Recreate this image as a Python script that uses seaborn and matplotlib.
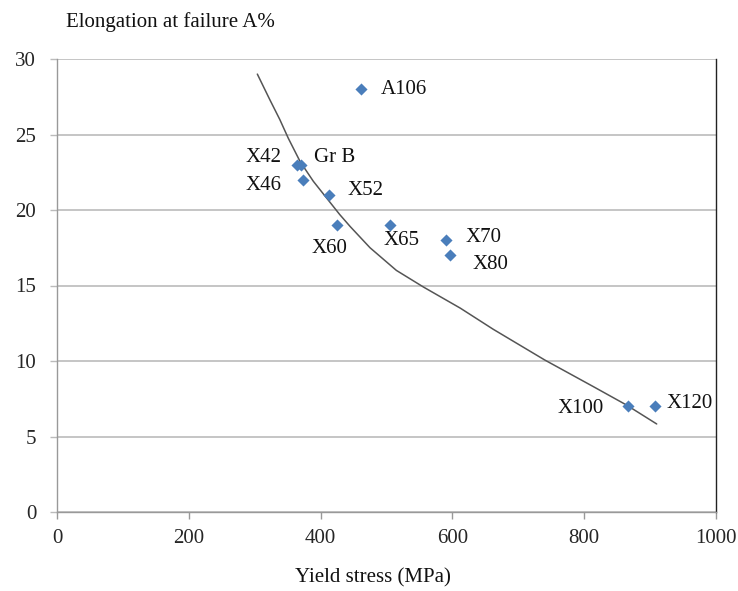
import matplotlib
matplotlib.use("Agg")
import matplotlib.pyplot as plt
import seaborn as sns
import pandas as pd

# Data
grades = ["A106", "X42", "Gr B", "X46", "X52", "X60", "X65", "X70", "X80", "X100", "X120"]
yield_stress = [461, 364, 370, 373, 413, 425, 505, 590, 597, 867, 907]
elongation = [28, 23, 23, 22, 21, 19, 19, 18, 17, 7, 7]

trend_x = [304, 323, 338, 351, 369, 389, 409, 429, 445, 475, 515, 556, 612, 662, 740, 814, 864, 910]
trend_y = [29.0, 27.3, 26.0, 24.75, 23.2, 21.9, 20.8, 19.7, 18.9, 17.5, 16.0, 14.9, 13.5, 12.1,
           10.07, 8.3, 7.09, 5.83]

x_ticks = [0, 200, 400, 600, 800, 1000]
y_ticks = [0, 5, 10, 15, 20, 25, 30]

# label offsets in pixels (dx, dy) and horizontal alignment
label_offsets = {
    "A106": (20, 0, "left"), "X42": (-15, 7, "right"), "Gr B": (13, 7, "left"),
    "X46": (-21, -6, "right"), "X52": (18, 4, "left"), "X60": (-8, -23, "center"),
    "X65": (12, -15, "center"), "X70": (20, 3, "left"), "X80": (22, -9, "left"),
    "X100": (-25, -2, "right"), "X120": (12, 3, "left"),
}

sns.set_theme(style="white")
plt.rcParams["font.family"] = ["Liberation Serif", "DejaVu Serif"]

df = pd.DataFrame({"grade": grades, "x": yield_stress, "y": elongation})
trend = pd.DataFrame({"x": trend_x, "y": trend_y})

fig = plt.figure(figsize=(7.38, 5.91), dpi=100)
ax = fig.add_axes([57 / 738, 79 / 591, (716 - 57) / 738, (512 - 59) / 591])

sns.lineplot(data=trend, x="x", y="y", ax=ax, color="#555555", linewidth=1.1, zorder=3)
sns.scatterplot(data=df, x="x", y="y", ax=ax, marker="D", s=38, color="#4A7EBB",
                edgecolor="#4A7EBB", linewidth=0, zorder=4)

fs = 15
for g, xv, yv in zip(grades, yield_stress, elongation):
    dx, dy, ha = label_offsets[g]
    ax.annotate(g, (xv, yv), xytext=(dx * 0.72, dy * 0.72), textcoords="offset points",
                ha=ha, va="center", fontsize=fs, color="#111111")

ax.set_xlim(0, 1000)
ax.set_ylim(0, 30)
ax.set_xticks(x_ticks)
ax.set_yticks(y_ticks)
ax.set_xticklabels([str(t) for t in x_ticks], fontsize=fs)
ax.set_yticklabels([str(t) for t in y_ticks], fontsize=fs)
ax.yaxis.grid(True, color="#BBBBBB", linewidth=1.2)
ax.xaxis.grid(False)
ax.tick_params(axis="x", direction="out", length=5, width=1, color="#999999", pad=7)
ax.tick_params(axis="y", direction="out", length=5, width=1, color="#BBBBBB", pad=10)
ax.tick_params(left=True, bottom=True)
for s in ["left", "bottom"]:
    ax.spines[s].set_color("#999999")
    ax.spines[s].set_linewidth(1)
ax.spines["top"].set_visible(False)
ax.spines["right"].set_color("#222222")
ax.spines["right"].set_linewidth(1)
ax.set_xlabel("")
ax.set_ylabel("")

fig.text(66 / 738, 1 - 22 / 591, "Elongation at failure A%", fontsize=fs,
         ha="left", va="center", color="#111111")
fig.text(373 / 738, 1 - 578 / 591, "Yield stress (MPa)", fontsize=fs,
         ha="center", va="center", color="#111111")

fig.savefig("out.png", dpi=100, facecolor="white")
